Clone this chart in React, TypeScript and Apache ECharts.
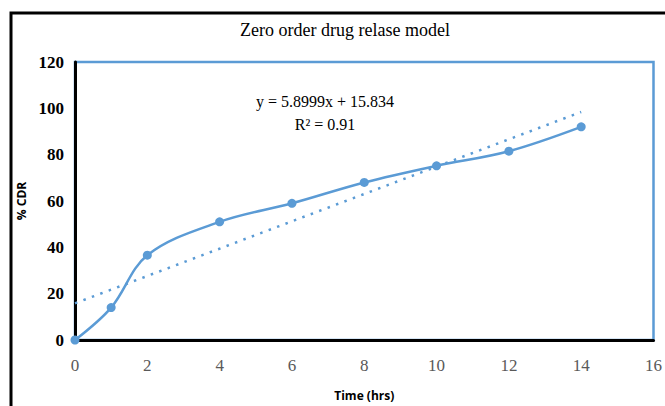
import React, { useEffect, useRef } from "react";
import * as echarts from "echarts";

// Cumulative drug release (%) over time (hours)
const timeHrs = [0, 1, 2, 4, 6, 8, 10, 12, 14];
const cdrPercent = [0, 14, 36.6, 51, 59, 68, 75.2, 81.5, 92];

// Linear fit reported on the chart
const slope = 5.8999;
const intercept = 15.834;
const rSquared = 0.91;
const trendX = [0, 14];

const yTicks = { min: 0, max: 120, interval: 20 };
const xTicks = { min: 0, max: 16, interval: 2 };

const BLUE = "#5b9bd5";

export default function App() {
  const ref = useRef<HTMLDivElement>(null);

  useEffect(() => {
    document.body.style.margin = "0";
    if (!ref.current) return;
    const chart = echarts.init(ref.current, undefined, { renderer: "svg" });

    const series = timeHrs.map((t, i) => [t, cdrPercent[i]]);
    const trend = trendX.map((t) => [t, slope * t + intercept]);

    chart.setOption({
      animation: false,
      backgroundColor: "#ffffff",
      grid: {
        left: 75,
        top: 62,
        right: 11,
        bottom: 62,
        show: true,
        borderColor: BLUE,
        borderWidth: 2.5,
      },
      xAxis: {
        type: "value",
        min: xTicks.min,
        max: xTicks.max,
        interval: xTicks.interval,
        name: "Time (hrs)",
        nameLocation: "middle",
        nameGap: 49,
        nameTextStyle: {
          fontFamily: "Open Sans",
          fontWeight: "bold",
          fontSize: 12,
          color: "#000",
        },
        axisLine: { show: true, lineStyle: { color: "#000", width: 3 } },
        axisTick: { show: false },
        splitLine: { show: false },
        axisLabel: {
          fontFamily: "Liberation Serif",
          fontSize: 17,
          color: "#595959",
          margin: 17,
        },
      },
      yAxis: {
        type: "value",
        min: yTicks.min,
        max: yTicks.max,
        interval: yTicks.interval,
        name: "% CDR",
        nameLocation: "middle",
        nameGap: 45,
        nameTextStyle: {
          fontFamily: "Open Sans",
          fontWeight: "bold",
          fontSize: 12,
          color: "#000",
        },
        axisLine: { show: true, lineStyle: { color: "#000", width: 3 } },
        axisTick: { show: false },
        splitLine: { show: false },
        axisLabel: {
          fontFamily: "Liberation Serif",
          fontWeight: "bold",
          fontSize: 17,
          color: "#000",
          margin: 11,
        },
      },
      series: [
        {
          type: "line",
          data: trend,
          symbol: "none",
          lineStyle: { color: BLUE, width: 2.5, type: [2.5, 6.5] },
          z: 2,
        },
        {
          type: "line",
          data: series,
          smooth: 0.35,
          symbol: "circle",
          symbolSize: 9,
          itemStyle: { color: BLUE },
          lineStyle: { color: BLUE, width: 2.5 },
          z: 3,
        },
      ],
      graphic: [
        {
          type: "rect",
          shape: { x: 11, y: 13, width: 700, height: 500 },
          style: { fill: "none", stroke: "#000", lineWidth: 3 },
          silent: true,
        },
        {
          type: "text",
          x: 345,
          y: 30,
          style: {
            text: "Zero order drug relase model",
            fontFamily: "Liberation Serif",
            fontSize: 18,
            fill: "#000",
            align: "center",
            verticalAlign: "middle",
          },
        },
        {
          type: "text",
          x: 325,
          y: 101,
          style: {
            text: `y = ${slope}x + ${intercept}`,
            fontFamily: "Liberation Serif",
            fontSize: 16,
            fill: "#000",
            align: "center",
            verticalAlign: "middle",
          },
        },
        {
          type: "text",
          x: 325,
          y: 124,
          style: {
            text: `R² = ${rSquared}`,
            fontFamily: "Liberation Serif",
            fontSize: 16,
            fill: "#000",
            align: "center",
            verticalAlign: "middle",
          },
        },
      ],
    });

    return () => chart.dispose();
  }, []);

  return (
    <div
      ref={ref}
      style={{ position: "absolute", left: 0, top: 0, width: 665, height: 406 }}
    />
  );
}
